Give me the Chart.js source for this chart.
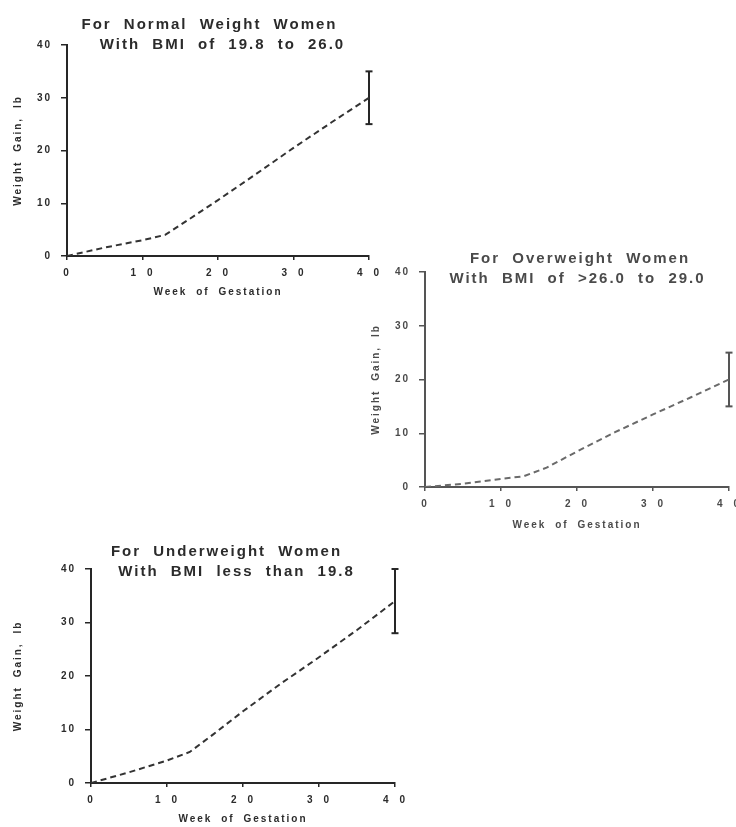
<!DOCTYPE html>
<html>
<head>
<meta charset="utf-8">
<script src="https://cdn.jsdelivr.net/npm/chart.js@4.4.1/dist/chart.umd.min.js"></script>
<style>
  html, body { margin: 0; background: #fff; width: 736px; height: 827px; overflow: hidden; }
  canvas { position: absolute; }
</style>
</head>
<body>
<canvas id="c-normal" width="400" height="300" style="left:0;top:0"></canvas>
<canvas id="c-over"   width="390" height="293" style="left:360px;top:240px"></canvas>
<canvas id="c-under"  width="420" height="287" style="left:0;top:540px"></canvas>
<script>
/* ── Data ───────────────────────────────────────────────────── */
const weeks      = [0, 5, 10, 13, 16, 20, 25, 30, 35, 40];
const gainNormal = [0, 1.6, 3.0, 4.0, 6.8, 10.6, 15.5, 20.5, 25.3, 30];
const gainOver   = [0, 0.6, 1.5, 2.0, 3.6, 6.6, 10.2, 13.5, 16.7, 20];
const gainUnder  = [0, 2.0, 4.2, 5.8, 9.0, 13.4, 18.6, 23.5, 28.6, 34];

const rangeNormal = [25, 35];
const rangeOver   = [15, 25];
const rangeUnder  = [28, 40];

const axisTicks = [0, 10, 20, 30, 40];

const FONT = '"Liberation Sans", Arial, sans-serif';

/* ── Heading text + letter spacing ──────────────────────────── */
const headingPlugin = {
  id: 'heading',
  beforeDraw(chart) {
    chart.ctx.letterSpacing = '2px';
    chart.ctx.wordSpacing = '4px';
  },
  afterDraw(chart, args, o) {
    const ctx = chart.ctx;
    ctx.save();
    ctx.font = 'bold 15px ' + FONT;
    ctx.fillStyle = o.color;
    ctx.textAlign = 'center';
    ctx.textBaseline = 'middle';
    ctx.letterSpacing = '2px';
    ctx.wordSpacing = '6px';
    o.lines.forEach(l => ctx.fillText(l.text, l.x, l.y));
    ctx.restore();
  }
};

function makeChart(id, gains, range, s) {
  const pts = weeks.map((w, i) => ({ x: w, y: gains[i] }));
  const bar = range.map(v => ({ x: axisTicks[axisTicks.length - 1], y: v }));

  return new Chart(document.getElementById(id), {
    type: 'line',
    data: {
      datasets: [{
        data: pts,
        borderColor: s.line,
        borderWidth: 2,
        borderDash: [6, 4],
        pointRadius: 0,
        tension: 0
      }, {
        data: bar,
        borderColor: s.axis,
        borderWidth: 2,
        pointStyle: 'line',
        pointRadius: 3.5,
        pointBorderWidth: 2,
        pointBorderColor: s.axis,
        clip: false
      }]
    },
    options: {
      responsive: false,
      animation: false,
      events: [],
      layout: { padding: s.pad },
      plugins: {
        legend: { display: false },
        tooltip: { enabled: false },
        heading: { lines: s.heading, color: s.text }
      },
      scales: {
        x: {
          type: 'linear', min: 0, max: 40,
          afterFit: sc => { sc.height = s.xH; },
          afterBuildTicks: sc => { sc.ticks = axisTicks.map(v => ({ value: v })); },
          border: { color: s.axis, width: 2 },
          grid: { drawOnChartArea: false, tickLength: 4, color: s.axis, lineWidth: 1.5 },
          ticks: {
            color: s.text, padding: 7, maxRotation: 0,
            font: { family: FONT, size: 10, weight: 'bold' },
            callback: v => String(v).split('').join(' ')
          },
          title: {
            display: true, text: 'Week of Gestation', color: s.text,
            padding: { top: 0, bottom: 2 },
            font: { family: FONT, size: 10, weight: 'bold' }
          }
        },
        y: {
          type: 'linear', min: 0, max: 40,
          afterFit: sc => { sc.width = s.yW; },
          afterBuildTicks: sc => { sc.ticks = axisTicks.map(v => ({ value: v })); },
          border: { color: s.axis, width: 2 },
          grid: { drawOnChartArea: false, tickLength: 6, color: s.axis, lineWidth: 1.5 },
          ticks: {
            color: s.text, padding: 9,
            font: { family: FONT, size: 10, weight: 'bold' }
          },
          title: {
            display: true, text: 'Weight Gain, lb', color: s.text,
            padding: { top: s.yTitlePad, bottom: 0 },
            font: { family: FONT, size: 10, weight: 'bold' }
          }
        }
      }
    },
    plugins: [headingPlugin]
  });
}

makeChart('c-normal', gainNormal, rangeNormal, {
  line: '#333', axis: '#262626', text: '#2b2b2b',
  pad: { top: 45, right: 31, bottom: 0, left: 0 },
  xH: 44, yW: 67, yTitlePad: 12,
  heading: [
    { text: 'For Normal Weight Women', x: 209.5, y: 25 },
    { text: 'With BMI of 19.8 to 26.0', x: 222.5, y: 45 }
  ]
});

makeChart('c-over', gainOver, rangeOver, {
  line: '#6a6a6a', axis: '#555', text: '#4a4a4a',
  pad: { top: 32, right: 21, bottom: 0, left: 0 },
  xH: 46, yW: 65, yTitlePad: 10,
  heading: [
    { text: 'For Overweight Women', x: 220, y: 18.5 },
    { text: 'With BMI of >26.0 to 29.0', x: 217.5, y: 39 }
  ]
});

makeChart('c-under', gainUnder, rangeUnder, {
  line: '#333', axis: '#262626', text: '#2b2b2b',
  pad: { top: 29, right: 25, bottom: 0, left: 0 },
  xH: 44, yW: 91, yTitlePad: 12,
  heading: [
    { text: 'For Underweight Women', x: 226.5, y: 12 },
    { text: 'With BMI less than 19.8', x: 236.5, y: 31.5 }
  ]
});
</script>
</body>
</html>
